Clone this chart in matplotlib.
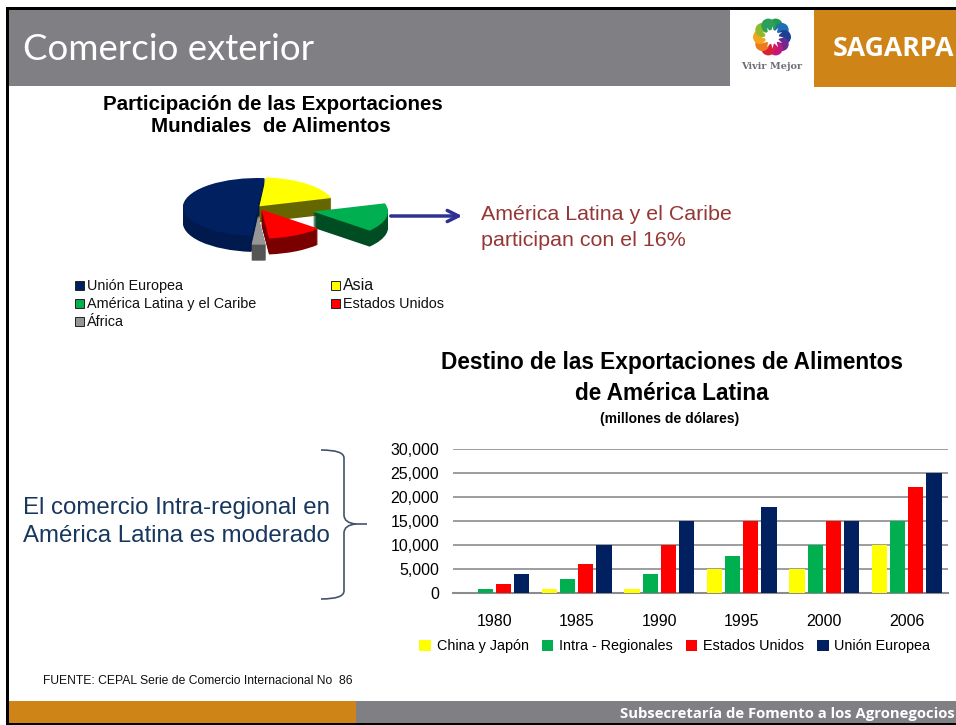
"""Comercio exterior slide: exploded pie and grouped bars."""

import matplotlib
matplotlib.use("Agg")
import matplotlib.pyplot as plt
import numpy as np
from matplotlib.patches import Rectangle, Circle, PathPatch
from matplotlib.path import Path

# Pie data
pie_labels = ["Unión Europea", "Asia", "América Latina y el Caribe", "Estados Unidos", "África"]
pie_shares = [50, 19, 16, 12, 3]
pie_explode = [0.0, 0.03, 0.75, 0.1, 0.3]
pie_top = ["#002060", "#FFFF00", "#00B050", "#FF0000", "#969696"]
pie_side = ["#001A4E", "#666600", "#004D23", "#7A0000", "#555555"]

# Bar data
years = ["1980", "1985", "1990", "1995", "2000", "2006"]
china_japon = [0, 800, 800, 5000, 5000, 10000]
intra_regionales = [800, 3000, 4000, 7800, 10000, 15000]
estados_unidos = [1900, 6000, 10000, 15000, 15000, 22000]
union_europea = [4000, 10000, 15000, 18000, 15000, 25000]
y_ticks = [0, 5000, 10000, 15000, 20000, 25000, 30000]

W, H = 956, 725
ORANGE = "#CF8417"
GRAY = "#7F7F84"
plt.rcParams["font.family"] = ["Liberation Sans", "DejaVu Sans"]

fig = plt.figure(figsize=(W / 100, H / 100), dpi=100, facecolor="white")


def px_axes(x0, y0, x1, y1):
    """Axes from pixel box, y counted from the top of the image."""
    return fig.add_axes([x0 / W, 1 - y1 / H, (x1 - x0) / W, (y1 - y0) / H])


# Slide background in pixel coordinates
bg = fig.add_axes([0, 0, 1, 1])
bg.set_xlim(0, W)
bg.set_ylim(H, 0)
bg.axis("off")
bg.add_patch(Rectangle((9, 10), W, 76, color=GRAY, lw=0))
bg.add_patch(Rectangle((730, 10), 84, 77, color="white", lw=0))
bg.add_patch(Rectangle((814, 10), W - 814, 77, color=ORANGE, lw=0))
bg.add_patch(Rectangle((9, 701), 347, 22, color=ORANGE, lw=0))
bg.add_patch(Rectangle((356, 701), W - 356, 22, color=GRAY, lw=0))
bg.add_patch(Rectangle((6, 7), W, 3, color="black", lw=0))
bg.add_patch(Rectangle((6, 7), 3, H, color="black", lw=0))
bg.add_patch(Rectangle((6, 723), W, 2, color="black", lw=0))

bg.text(23, 49, "Comercio exterior", color="white", fontsize=26.4, family="Lato",
        va="center")
bg.text(833, 49, "SAGARPA", color="white", fontsize=19.2, fontweight="bold", va="center",
        family="Open Sans")
bg.text(772, 66, "Vivir Mejor", color="#6E6E78", fontsize=7, fontweight="bold",
        ha="center", va="center", family="DejaVu Serif")
bg.text(620, 714, "Subsecretaría de Fomento a los Agronegocios", color="white",
        fontsize=10.7, fontweight="bold", va="center", family="Open Sans")

# Logo flower
logo_cols = ["#1E9B4A", "#1F6FB5", "#1D3F94", "#6A2C91", "#C2187E", "#D81F3C",
             "#EE7A1E", "#F2A51E", "#8DBB2B", "#2CA05A"]
for i, c in enumerate(logo_cols):
    a = np.deg2rad(90 - i * 36 - 18)
    bg.add_patch(Circle((772 + 12 * np.cos(a), 37 - 12 * np.sin(a)), 7, color=c, lw=0))
bg.add_patch(Circle((772, 37), 7, color="white", lw=0))
bg.scatter([772], [37], marker=(12, 1, 0), s=260, color="white", lw=0, zorder=3)

# Pie title
bg.text(273, 104, "Participación de las Exportaciones", fontsize=14.8, fontweight="bold",
        ha="center", va="center")
bg.text(271, 126, "Mundiales  de Alimentos", fontsize=14.8, fontweight="bold",
        ha="center", va="center")

# Pie, squashed, with stacked copies giving the depth
pie_cx, pie_cy = 258, 207
rx, ry = 75, 29
ax_pie = px_axes(pie_cx - 2 * rx, pie_cy - 2 * ry, pie_cx + 2 * rx, pie_cy + 2 * ry)
ax_pie.patch.set_alpha(0)
depth = 16
for d in range(depth, -1, -1):
    cols = pie_top if d == 0 else pie_side
    ax_pie.pie(pie_shares, colors=cols, explode=pie_explode, startangle=265, counterclock=False,
               center=(0, -d / ry), radius=1, wedgeprops={"lw": 0, "clip_on": False}, frame=False)
ax_pie.set_aspect("auto")
ax_pie.set_xlim(-2, 2)
ax_pie.set_ylim(-2, 2)
ax_pie.axis("off")

# Arrow and callout
bg.annotate("", xy=(465, 216), xytext=(388, 216),
            arrowprops=dict(arrowstyle="->", color="#2E3192", lw=2.5, mutation_scale=20))
bg.text(481, 214, "América Latina y el Caribe", color="#953735", fontsize=15.4, va="center")
bg.text(481, 240, "participan con el 16%", color="#953735", fontsize=15.4, va="center")

# Pie legend
legend_pos = [(75, 285), (331, 285), (75, 303), (331, 303), (75, 321)]
for name, col, (lx, ly) in zip(pie_labels, pie_top, legend_pos):
    bg.add_patch(Rectangle((lx, ly - 4), 9, 9, facecolor=col, edgecolor="#222222", lw=0.7))
    bg.text(lx + 12, ly + 0.5, name, fontsize=11.5 if name == "Asia" else 10.4, va="center",
            color="#111111")

# Bar chart titles
bg.text(672, 362, "Destino de las Exportaciones de Alimentos", fontsize=16.3, fontweight="bold",
        ha="center", va="center")
bg.text(672, 393, "de América Latina", fontsize=16.3, fontweight="bold", ha="center", va="center")
bg.text(670, 419, "(millones de dólares)", fontsize=10, fontweight="bold", ha="center", va="center")

# Left text and brace
bg.text(23, 508, "El comercio Intra-regional en", color="#17375E", fontsize=17.3, va="center")
bg.text(23, 536, "América Latina es moderado", color="#17375E", fontsize=17.3, va="center")
brace_xy = [(321, 450), (344, 450), (344, 458), (344, 515), (344, 523), (356, 524), (367, 524),
            (356, 524), (344, 525), (344, 533), (344, 591), (344, 599), (321, 599)]
brace_codes = [Path.MOVETO, Path.CURVE3, Path.CURVE3, Path.LINETO, Path.CURVE3, Path.CURVE3,
               Path.LINETO, Path.MOVETO, Path.CURVE3, Path.CURVE3, Path.LINETO, Path.CURVE3,
               Path.CURVE3]
bg.add_patch(PathPatch(Path(brace_xy, brace_codes), fill=False, edgecolor="#44546A", lw=1.2))

bg.text(43, 681, "FUENTE: CEPAL Serie de Comercio Internacional No  86", fontsize=8.7,
        va="center", color="#111111")

# Grouped bars
ax = px_axes(453, 449, 948, 593)
ax.patch.set_alpha(0)
x = np.arange(len(years))
series = [("China y Japón", china_japon, "#FFFF00"),
          ("Intra - Regionales", intra_regionales, "#00B050"),
          ("Estados Unidos", estados_unidos, "#FF0000"),
          ("Unión Europea", union_europea, "#002060")]
pitch = 0.22
for i, (name, vals, col) in enumerate(series):
    ax.bar(x + (i - 1.5) * pitch, vals, width=0.185, color=col, label=name, zorder=3)
ax.set_xlim(-0.5, 5.5)
ax.set_ylim(0, 30000)
ax.set_yticks(y_ticks)
ax.set_yticklabels([f"{v:,}" for v in y_ticks], fontsize=11.5)
ax.set_xticks(x)
ax.set_xticklabels(years, fontsize=11.5)
ax.tick_params(axis="both", length=0)
ax.tick_params(axis="x", pad=15)
ax.tick_params(axis="y", pad=10)
ax.grid(axis="y", color="#8C8C8C", lw=1.2, zorder=0)
ax.set_axisbelow(True)
for s in ["top", "right", "left"]:
    ax.spines[s].set_visible(False)
ax.spines["bottom"].set_color("#8C8C8C")
ax.spines["bottom"].set_linewidth(1.5)
ax.legend(loc="center", bbox_to_anchor=(0.448, -0.37), ncol=4, frameon=False, fontsize=10.4,
          handlelength=0.8, handleheight=0.8, handletextpad=0.4, columnspacing=0.9,
          borderpad=0, borderaxespad=0)

fig.savefig("out.png", dpi=100)
